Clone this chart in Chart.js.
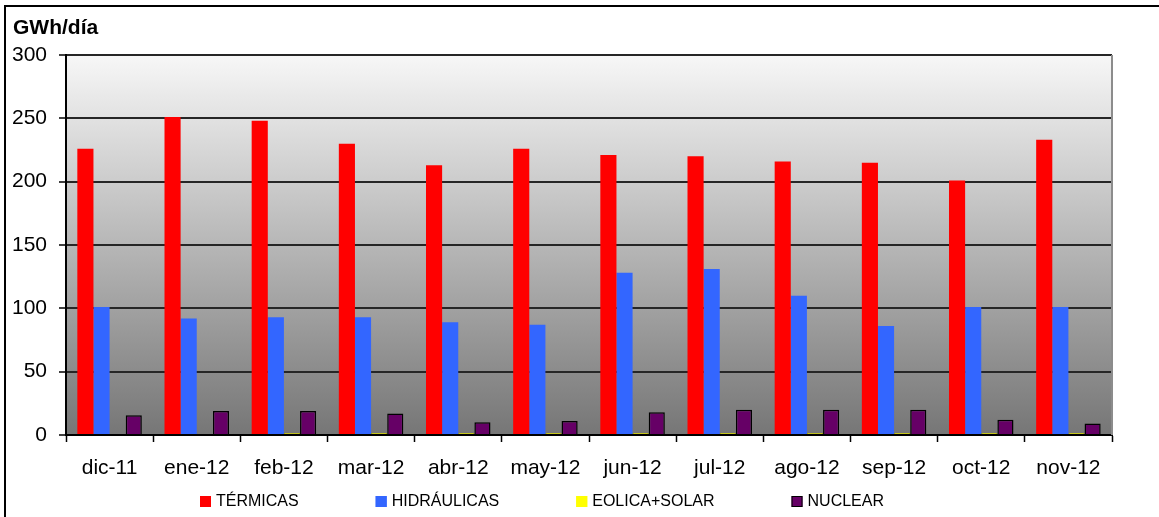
<!DOCTYPE html>
<html>
<head>
<meta charset="utf-8">
<script src="https://cdn.jsdelivr.net/npm/chart.js@4.4.1/dist/chart.umd.min.js"></script>
<style>
    body { margin: 0; background: #fff; }
    #wrap { position: relative; width: 1159px; height: 517px; overflow: hidden; }
    #frame { position: absolute; left: 4px; top: 5px; width: 1170px; height: 530px; border: 2px solid #000; }
    #genChart { position: absolute; left: 0; top: 0; }
</style>
</head>
<body>
<div id="wrap">
    <div id="frame"></div>
    <canvas id="genChart" width="1159" height="517"></canvas>
</div>
<script>
var meses = ['dic-11', 'ene-12', 'feb-12', 'mar-12', 'abr-12', 'may-12', 'jun-12', 'jul-12', 'ago-12', 'sep-12', 'oct-12', 'nov-12'];
var termicas = [226, 251, 248, 230, 213, 226, 221, 220, 216, 215, 201, 233];
var hidraulicas = [101, 92, 93, 93, 89, 87, 128, 131, 110, 86, 101, 101];
var eolicaSolar = [0, 0, 1.5, 1.5, 1.5, 1.5, 1.5, 1.5, 1.5, 1.5, 1.5, 1.5];
var nuclear = [15.5, 19, 19, 17, 10, 11, 18, 20, 20, 20, 12, 9];
var ejeY = [0, 50, 100, 150, 200, 250, 300];

var FUENTE = '"Liberation Sans", Arial, sans-serif';

// fondo degradado del área de trazado + borde derecho gris
var fondoPlugin = {
    id: 'fondo',
    beforeDraw: function (chart) {
        var a = chart.chartArea, ctx = chart.ctx;
        var g = ctx.createLinearGradient(0, a.top, 0, a.bottom);
        g.addColorStop(0, '#f7f7f7');
        g.addColorStop(1, '#767676');
        ctx.save();
        ctx.fillStyle = g;
        ctx.fillRect(a.left, a.top, a.right - a.left, a.bottom - a.top);
        ctx.restore();
    },
    afterDraw: function (chart) {
        var a = chart.chartArea, ctx = chart.ctx;
        ctx.save();
        ctx.strokeStyle = '#8c8c8c';
        ctx.lineWidth = 2;
        ctx.beginPath();
        ctx.moveTo(a.right, a.top);
        ctx.lineTo(a.right, a.bottom);
        ctx.stroke();
        // título del eje
        ctx.fillStyle = '#000';
        ctx.font = 'bold 21px ' + FUENTE;
        ctx.textBaseline = 'alphabetic';
        ctx.fillText('GWh/día', 13, 34);
        ctx.restore();
    }
};

// leyenda dibujada a mano para respetar el espaciado original
var leyendaPlugin = {
    id: 'leyendaExcel',
    afterDraw: function (chart) {
        var ctx = chart.ctx;
        var x = 200, y = 501;
        ctx.save();
        ctx.font = '16px ' + FUENTE;
        ctx.textBaseline = 'middle';
        chart.data.datasets.forEach(function (ds) {
            ctx.fillStyle = ds.backgroundColor;
            ctx.fillRect(x, y - 5, 11, 11);
            ctx.strokeStyle = ds.legendBorder;
            ctx.lineWidth = 1;
            ctx.strokeRect(x + 0.5, y - 4.5, 10, 10);
            ctx.fillStyle = '#000';
            ctx.fillText(ds.label, x + 16, y + 1);
            x += 16 + ctx.measureText(ds.label).width + 77;
        });
        ctx.restore();
    }
};

function crearGrafico() {
    var ctx = document.getElementById('genChart').getContext('2d');
    new Chart(ctx, {
        type: 'bar',
        data: {
            labels: meses,
            datasets: [{
                label: 'TÉRMICAS',
                data: termicas,
                backgroundColor: '#ff0000',
                legendBorder: '#ff0000',
                borderWidth: 0
            }, {
                label: 'HIDRÁULICAS',
                data: hidraulicas,
                backgroundColor: '#3366ff',
                legendBorder: '#3366ff',
                borderWidth: 0
            }, {
                label: 'EOLICA+SOLAR',
                data: eolicaSolar,
                backgroundColor: '#ffff00',
                legendBorder: '#ffff00',
                borderColor: '#a6a600',
                borderWidth: 1
            }, {
                label: 'NUCLEAR',
                data: nuclear,
                backgroundColor: '#660066',
                legendBorder: '#000000',
                borderColor: '#000000',
                borderWidth: 1.5
            }]
        },
        options: {
            responsive: false,
            animation: false,
            categoryPercentage: 0.74,
            barPercentage: 1,
            layout: { padding: { left: 0, top: 55, right: 47, bottom: 35 } },
            plugins: {
                legend: { display: false },
                tooltip: { enabled: false }
            },
            scales: {
                x: {
                    offset: true,
                    grid: { drawOnChartArea: false, drawTicks: true, tickLength: 7, tickColor: '#000', tickWidth: 1.5 },
                    border: { color: '#000', width: 2 },
                    ticks: { color: '#000', font: { family: FUENTE, size: 21 }, padding: 14, maxRotation: 0 },
                    afterFit: function (scale) { scale.height = 47; }
                },
                y: {
                    min: 0,
                    max: 300,
                    afterBuildTicks: function (scale) {
                        scale.ticks = ejeY.map(function (v) { return { value: v }; });
                    },
                    grid: { color: '#262626', lineWidth: 2, drawTicks: true, tickLength: 7, tickColor: '#000', tickWidth: 1.5 },
                    border: { color: '#000', width: 2 },
                    ticks: { color: '#000', font: { family: FUENTE, size: 21 }, padding: 12 },
                    afterFit: function (scale) { scale.width = 66; }
                }
            }
        },
        plugins: [fondoPlugin, leyendaPlugin]
    });
}

document.addEventListener('DOMContentLoaded', function () {
    crearGrafico();
});
</script>
</body>
</html>
